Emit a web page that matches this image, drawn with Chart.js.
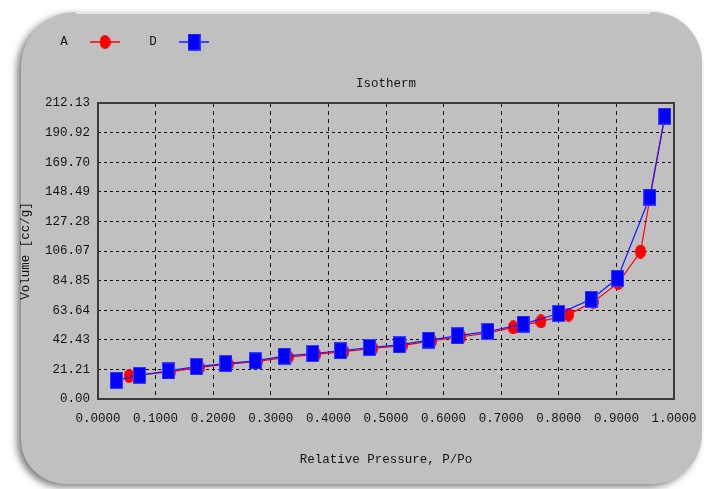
<!DOCTYPE html>
<html>
<head>
<meta charset="utf-8">
<script src="https://cdn.jsdelivr.net/npm/chart.js@4/dist/chart.umd.min.js"></script>
<style>
    body { margin: 0; background: #ffffff; }
    canvas { display: block; }
</style>
</head>
<body>
<canvas id="chart" width="704" height="489"></canvas>
<script>
const seriesNames = ['A', 'D'];

const pressureA = [0.054, 0.125, 0.176, 0.226, 0.277, 0.330, 0.378, 0.427, 0.477, 0.528, 0.579, 0.630, 0.674, 0.721, 0.769, 0.817, 0.860, 0.903, 0.942, 0.958, 0.984];
const volumeA = [16.5, 19.5, 22.6, 25.0, 27.0, 30.0, 32.0, 34.0, 36.3, 38.2, 41.6, 44.6, 47.0, 51.3, 55.6, 60.5, 69.7, 83.0, 105.7, 143.5, 202.0];

const pressureD = [0.032, 0.072, 0.122, 0.171, 0.222, 0.273, 0.323, 0.373, 0.421, 0.471, 0.523, 0.574, 0.624, 0.677, 0.738, 0.800, 0.856, 0.902, 0.958, 0.984];
const volumeD = [13.4, 17.0, 20.1, 23.2, 25.4, 27.3, 30.7, 32.6, 34.5, 36.9, 38.8, 42.2, 45.3, 48.4, 53.7, 61.3, 71.4, 86.5, 144.7, 202.7];

const yTickValues = [0, 21.213, 42.426, 63.639, 84.852, 106.065, 127.278, 148.491, 169.704, 190.917, 212.13];
const yTickLabels = ['0.00', '21.21', '42.43', '63.64', '84.85', '106.07', '127.28', '148.49', '169.70', '190.92', '212.13'];

const FONT = "'Liberation Mono', 'Courier New', monospace";
const TEXT = '#141414';

const toPoints = (xs, ys) => xs.map((x, i) => ({ x: x, y: ys[i] }));

// marker images: the originals are a bit taller than wide
const makeRect = (w, h, color, edge) => {
    const c = document.createElement('canvas');
    c.width = w; c.height = h;
    const g = c.getContext('2d');
    g.fillStyle = edge;
    g.fillRect(0, 0, w, h);
    g.fillStyle = color;
    g.fillRect(1, 1, w - 2, h - 2);
    return c;
};

const makeDot = (w, h, color) => {
    const c = document.createElement('canvas');
    c.width = w; c.height = h;
    const g = c.getContext('2d');
    g.fillStyle = color;
    g.beginPath();
    g.ellipse(w / 2, h / 2, w / 2, h / 2, 0, 0, Math.PI * 2);
    g.fill();
    return c;
};

const redDot = makeDot(11, 14, '#ff0000');
const blueBox = makeRect(13, 17, '#0000ff', '#3a3aff');

const panelPlugin = {
    id: 'panel',
    beforeDraw(chart) {
        const ctx = chart.ctx;
        ctx.save();
        ctx.shadowColor = 'rgba(0, 0, 0, 0.5)';
        ctx.shadowBlur = 7;
        ctx.shadowOffsetX = -4;
        ctx.shadowOffsetY = 3;
        ctx.fillStyle = '#c0c0c0';
        ctx.beginPath();
        ctx.roundRect(21, 12, 681, 472, [55, 50, 50, 45]);
        ctx.fill();
        ctx.restore();

        ctx.save();
        ctx.strokeStyle = 'rgba(255, 255, 255, 0.8)';
        ctx.lineWidth = 1.5;
        ctx.beginPath();
        ctx.moveTo(76, 13);
        ctx.lineTo(650, 13);
        ctx.stroke();
        ctx.restore();
    },
    beforeDatasetsDraw(chart) {
        const { ctx, chartArea } = chart;
        ctx.save();
        ctx.strokeStyle = '#3c3c3c';
        ctx.lineWidth = 2;
        ctx.strokeRect(chartArea.left, chartArea.top, chartArea.right - chartArea.left, chartArea.bottom - chartArea.top);
        ctx.restore();
    },
    afterDraw(chart) {
        const ctx = chart.ctx;
        const y = 42;
        ctx.save();
        ctx.font = '12.5px ' + FONT;
        ctx.textBaseline = 'middle';
        ctx.textAlign = 'center';
        chart.data.datasets.forEach((ds, i) => {
            const x0 = 64 + i * 89;
            ctx.fillStyle = TEXT;
            ctx.fillText(ds.label, x0, y);
            ctx.strokeStyle = ds.borderColor;
            ctx.lineWidth = 1.5;
            ctx.beginPath();
            ctx.moveTo(x0 + 26, y);
            ctx.lineTo(x0 + 56, y);
            ctx.stroke();
            const img = ds.pointStyle;
            ctx.drawImage(img, x0 + 41 - img.width / 2, y - img.height / 2);
        });
        ctx.restore();
    }
};

const noSidePadding = (scale) => {
    scale.paddingLeft = 0;
    scale.paddingRight = 0;
};

new Chart(document.getElementById('chart'), {
    type: 'scatter',
    data: {
        datasets: [
            {
                label: seriesNames[0],
                data: toPoints(pressureA, volumeA),
                showLine: true,
                borderColor: '#ff0000',
                backgroundColor: '#ff0000',
                borderWidth: 1.2,
                pointStyle: redDot,
                order: 1
            },
            {
                label: seriesNames[1],
                data: toPoints(pressureD, volumeD),
                showLine: true,
                borderColor: '#1a1aff',
                backgroundColor: '#0000ff',
                borderWidth: 1.2,
                pointStyle: blueBox,
                order: 0
            }
        ]
    },
    plugins: [panelPlugin],
    options: {
        responsive: false,
        animation: false,
        layout: {
            padding: { left: 18, right: 30, top: 0, bottom: 22 }
        },
        plugins: {
            legend: { display: false },
            tooltip: { enabled: false },
            title: { display: false }
        },
        scales: {
            // empty top axis, only there to hold the title centred over the plot
            top: {
                type: 'linear',
                position: 'top',
                min: 0,
                max: 1,
                afterFit: (scale) => { scale.height = 103; noSidePadding(scale); },
                ticks: { display: false },
                grid: { display: false, drawTicks: false },
                border: { display: false },
                title: {
                    display: true,
                    text: 'Isotherm',
                    color: TEXT,
                    font: { family: FONT, size: 12.5 },
                    padding: { top: 76, bottom: 0 }
                }
            },
            x: {
                type: 'linear',
                min: 0,
                max: 1,
                afterFit: (scale) => { scale.height = 68; noSidePadding(scale); },
                ticks: {
                    stepSize: 0.1,
                    padding: 12,
                    color: TEXT,
                    font: { family: FONT, size: 12.5 },
                    maxRotation: 0,
                    callback: (v) => v.toFixed(4)
                },
                grid: { color: '#111111', lineWidth: 1, drawTicks: false },
                border: { display: false, dash: [4, 4] },
                title: {
                    display: true,
                    text: 'Relative Pressure, P/Po',
                    color: TEXT,
                    font: { family: FONT, size: 12.5 },
                    padding: 0
                }
            },
            y: {
                type: 'linear',
                min: 0,
                max: 212.13,
                afterFit: (scale) => { scale.width = 80; },
                afterBuildTicks: (scale) => {
                    scale.ticks = yTickValues.map(v => ({ value: v }));
                },
                ticks: {
                    padding: 8,
                    color: TEXT,
                    font: { family: FONT, size: 12.5 },
                    callback: (v, i) => yTickLabels[i]
                },
                grid: { color: '#111111', lineWidth: 1, drawTicks: false },
                border: { display: false, dash: [3, 3] },
                title: {
                    display: true,
                    text: 'Volume [cc/g]',
                    color: TEXT,
                    font: { family: FONT, size: 12.5 },
                    padding: 0
                }
            }
        }
    }
});
</script>
</body>
</html>
